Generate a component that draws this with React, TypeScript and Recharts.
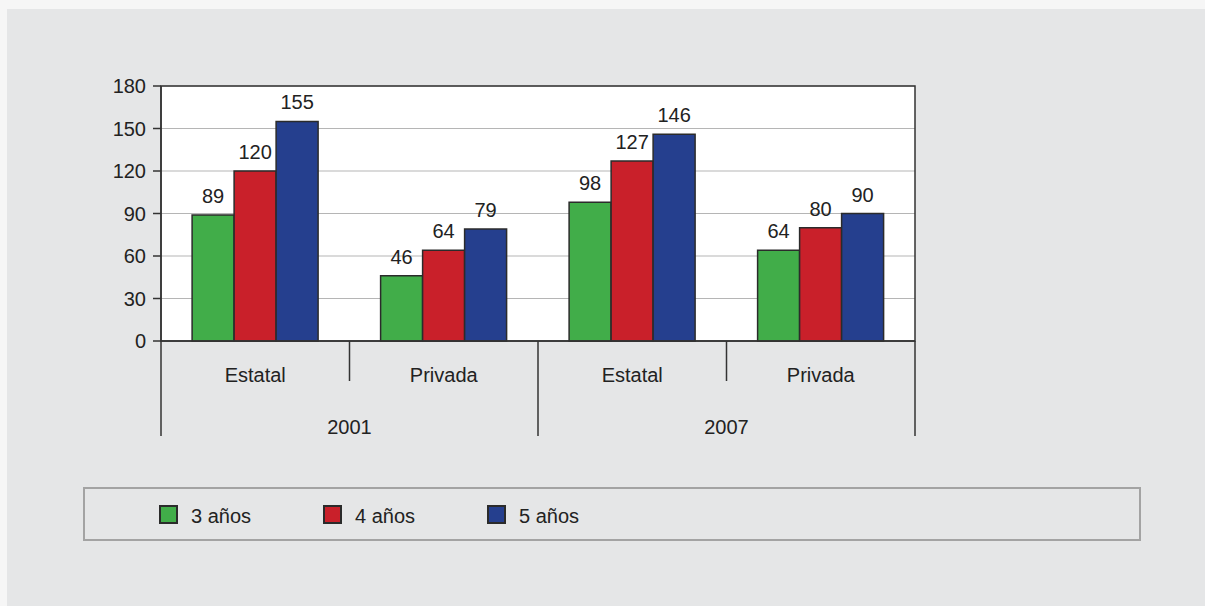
import { BarChart, Bar, XAxis, YAxis, CartesianGrid, LabelList, ReferenceArea } from 'recharts'

const categories = ['Estatal', 'Privada', 'Estatal', 'Privada']
const years = ['2001', '2001', '2007', '2007']
const tres = [89, 46, 98, 64]
const cuatro = [120, 64, 127, 80]
const cinco = [155, 79, 146, 90]
const yTicks = [0, 30, 60, 90, 120, 150, 180]

const series = [
  { key: 'tres', name: '3 años', color: '#41ad49' },
  { key: 'cuatro', name: '4 años', color: '#c9202a' },
  { key: 'cinco', name: '5 años', color: '#253f8e' },
]

const chartData = categories.map((cat, i) => ({
  cat,
  year: years[i],
  tres: tres[i],
  cuatro: cuatro[i],
  cinco: cinco[i],
}))

const FONT = '"Liberation Sans", Arial, Helvetica, sans-serif'
const TEXT = '#222'
const LINE = '#333'
const FS = 20

// category row: label + separators (long ones where the year changes)
const CategoryTick = (props: any) => {
  const { x, y, payload, index } = props
  const half = payload?.offset ?? 94.25
  const i = index ?? payload.index
  const startsGroup = i === 0 || years[i] !== years[i - 1]
  const isLast = i === categories.length - 1
  return (
    <g>
      <line x1={x - half} x2={x - half} y1={y} y2={y + (startsGroup ? 95 : 40)} stroke={LINE} strokeWidth={1.5} />
      {isLast && (
        <line x1={x + half} x2={x + half} y1={y} y2={y + 95} stroke={LINE} strokeWidth={1.5} />
      )}
      <text x={x} y={y + 41} textAnchor="middle" fill={TEXT} fontSize={FS} fontFamily={FONT}>
        {payload.value}
      </text>
    </g>
  )
}

const YearTick = (props: any) => {
  const { x, y, payload, index } = props
  const half = payload?.offset ?? 94.25
  const i = index ?? payload.index
  if (i > 0 && years[i] === years[i - 1]) return null
  return (
    <text x={x + half} y={y + 53} textAnchor="middle" fill={TEXT} fontSize={FS} fontFamily={FONT}>
      {payload.value}
    </text>
  )
}

export default function App() {
  return (
    <div style={{ position: 'absolute', left: 0, top: 0, width: 1205, height: 606, background: '#f6f6f6', fontFamily: FONT }}>
      <div style={{ position: 'absolute', left: 7, top: 9, right: 0, bottom: 0, background: '#e5e6e7' }} />
      <div style={{ position: 'absolute', left: 0, top: 0 }}>
        <BarChart
          width={1205}
          height={606}
          data={chartData}
          margin={{ top: 86, right: 290, left: 101, bottom: 170 }}
          barCategoryGap="16.5%"
          barGap={0}
        >
          <CartesianGrid vertical={false} stroke="#b5b5b5" fill="#fff" />
          <XAxis
            dataKey="cat"
            height={40}
            interval={0}
            tickLine={false}
            tickSize={0}
            tickMargin={0}
            axisLine={{ stroke: LINE, strokeWidth: 1.5 }}
            tick={<CategoryTick />}
          />
          <XAxis
            xAxisId="year"
            dataKey="year"
            height={55}
            interval={0}
            tickLine={false}
            tickSize={0}
            tickMargin={0}
            axisLine={false}
            tick={<YearTick />}
          />
          <YAxis
            width={60}
            domain={[0, 180]}
            ticks={yTicks}
            interval={0}
            tickSize={8}
            tickMargin={7}
            axisLine={{ stroke: LINE, strokeWidth: 1.5 }}
            tickLine={{ stroke: LINE, strokeWidth: 1.5 }}
            tick={{ fill: TEXT, fontSize: FS, fontFamily: FONT }}
          />
          <ReferenceArea y1={0} y2={180} fill="none" stroke={LINE} strokeWidth={1.5} ifOverflow="visible" />
          {series.map((s) => (
            <Bar
              key={s.key}
              dataKey={s.key}
              name={s.name}
              fill={s.color}
              stroke="#2b2b2b"
              strokeWidth={1.5}
              isAnimationActive={false}
            >
              <LabelList dataKey={s.key} position="top" offset={12} fill={TEXT} fontSize={FS} fontFamily={FONT} />
            </Bar>
          ))}
        </BarChart>
      </div>
      <div
        style={{
          position: 'absolute',
          left: 83,
          top: 487,
          width: 1058,
          height: 54,
          boxSizing: 'border-box',
          border: '2px solid #a3a3a3',
          display: 'flex',
          alignItems: 'center',
          paddingLeft: 74,
        }}
      >
        {series.map((s) => (
          <div key={s.key} style={{ display: 'flex', alignItems: 'center', width: 164 }}>
            <span
              style={{
                width: 19,
                height: 19,
                boxSizing: 'border-box',
                border: '2px solid #2b2b2b',
                background: s.color,
                display: 'inline-block',
              }}
            />
            <span style={{ marginLeft: 13, fontSize: FS, color: TEXT, position: 'relative', top: 2 }}>{s.name}</span>
          </div>
        ))}
      </div>
    </div>
  )
}
